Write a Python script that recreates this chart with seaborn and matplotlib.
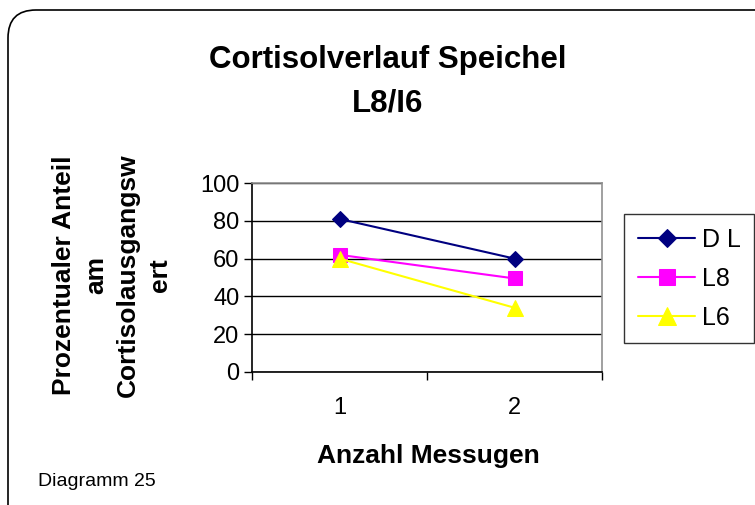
import pandas as pd
import matplotlib
matplotlib.use("Agg")
import matplotlib.pyplot as plt
import seaborn as sns
from matplotlib.patches import FancyBboxPatch

# Daten
messungen = ["1", "2"]
serien = ["D L", "L8", "L6"]
werte_dl = [81, 60]
werte_l8 = [62, 49.5]
werte_l6 = [60, 34]
y_ticks = [0, 20, 40, 60, 80, 100]

farben = {"D L": "#000080", "L8": "#FF00FF", "L6": "#FFFF00"}
marker = {"D L": "D", "L8": "s", "L6": "^"}
marker_groesse = {"D L": 8, "L8": 10, "L6": 11}

rows = []
for name, werte in zip(serien, [werte_dl, werte_l8, werte_l6]):
    for i, (m, w) in enumerate(zip(messungen, werte)):
        rows.append({"pos": i + 0.5, "messung": m, "wert": w, "serie": name})
df = pd.DataFrame(rows)

sns.set_style("white")
plt.rcParams["font.family"] = ["Liberation Sans", "DejaVu Sans"]
plt.rcParams["text.color"] = "black"
plt.rcParams["xtick.color"] = "black"
plt.rcParams["ytick.color"] = "black"

W, H = 755, 505
fig = plt.figure(figsize=(W / 100, H / 100), dpi=100)

# Hintergrund mit abgerundetem Rahmen
bg = fig.add_axes([0, 0, 1, 1])
bg.set_xlim(0, W)
bg.set_ylim(H, 0)
bg.axis("off")
bg.add_patch(FancyBboxPatch((8, 10), W + 20, H + 20,
                            boxstyle="round,pad=0,rounding_size=28",
                            fc="white", ec="black", lw=1.2))

ax = fig.add_axes([252 / W, 1 - 372 / H, 350 / W, 189 / H])
for name in serien:
    sub = df[df["serie"] == name]
    sns.lineplot(data=sub, x="pos", y="wert", ax=ax, color=farben[name],
                 marker=marker[name], markersize=marker_groesse[name],
                 markeredgecolor=farben[name], linewidth=1.5, label=name)

ax.set_xlim(0, len(messungen))
ax.set_ylim(0, 100)
ax.set_yticks(y_ticks)
ax.set_yticklabels([str(t) for t in y_ticks], fontsize=17)
ax.set_xticks(range(len(messungen) + 1))
ax.set_xticklabels([])
for i, m in enumerate(messungen):
    ax.text(i + 0.5, -0.13, m, transform=ax.get_xaxis_transform(),
            ha="center", va="top", fontsize=17)
ax.tick_params(axis="both", direction="out", length=6, width=1, color="black",
               left=True, bottom=True)
ax.tick_params(axis="y", pad=3)
ax.grid(axis="y", color="black", lw=1)
ax.set_axisbelow(True)
ax.spines["left"].set_color("black")
ax.spines["bottom"].set_color("black")
ax.spines["top"].set_color("#909090")
ax.spines["right"].set_color("#909090")
for s in ax.spines.values():
    s.set_linewidth(1.2)

ax.set_xlabel("")
ax.set_ylabel("")

leg = ax.legend(loc="upper left", bbox_to_anchor=(624 / W, 1 - 214 / H),
                bbox_transform=fig.transFigure, fontsize=18, frameon=True,
                fancybox=False, edgecolor="black", handlelength=2.3,
                borderpad=0.55, labelspacing=0.6, handletextpad=0.25,
                borderaxespad=0, markerscale=1.15)
leg.get_frame().set_linewidth(1)

fig.text(388 / W, 1 - 60 / H, "Cortisolverlauf Speichel", ha="center",
         va="center", fontsize=22.5, fontweight="bold")
fig.text(388 / W, 1 - 103 / H, "L8/I6", ha="center", va="center",
         fontsize=22.5, fontweight="bold")
fig.text(428 / W, 1 - 456 / H, "Anzahl Messugen", ha="center", va="center",
         fontsize=19, fontweight="bold")
fig.text(112 / W, 1 - 275 / H, "Prozentualer Anteil\nam\nCortisolausgangsw\nert",
         ha="center", va="center", rotation=90, fontsize=19, fontweight="bold",
         linespacing=1.42)
fig.text(38 / W, 1 - 482 / H, "Diagramm 25", ha="left", va="center",
         fontsize=14)

fig.savefig("out.png", dpi=100)
